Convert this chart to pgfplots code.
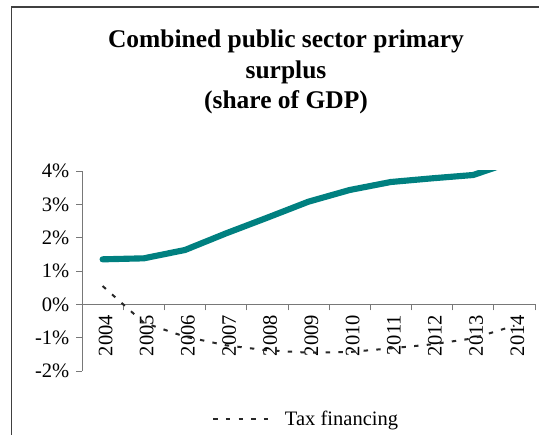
\documentclass[border=0pt]{standalone}
\usepackage{fontspec}
\setmainfont{Liberation Serif}
\usepackage{pgfplots}
\pgfplotsset{compat=1.18}
\definecolor{teal1}{RGB}{0,128,128}
\definecolor{axgray}{RGB}{120,120,120}
\definecolor{dotgray}{RGB}{40,40,40}
\begin{document}
\begin{tikzpicture}[x=0.75pt,y=0.75pt]
\useasboundingbox (0,0) rectangle (539,435);
\draw[line width=1.1pt,black!75] (11.7,-10) -- (11.7,428) -- (560,428);
\node[anchor=base,font=\bfseries\fontsize{19.1}{22.9}\selectfont] at (286,387) {Combined public sector primary};
\node[anchor=base,font=\bfseries\fontsize{19.1}{22.9}\selectfont] at (286,356.5) {surplus};
\node[anchor=base,font=\bfseries\fontsize{19.1}{22.9}\selectfont] at (286,326) {(share of GDP)};
\begin{axis}[
  at={(61.5pt,48pt)}, anchor=south west,
  scale only axis, width=339.75pt, height=150pt,
  xmin=-0.5, xmax=10.5, ymin=-2, ymax=4,
  axis y line=left, axis x line=middle,
  hide obscured x ticks=false, hide obscured y ticks=false,
  axis line style={-, draw=axgray, line width=0.6pt},
  every tick/.style={draw=axgray, line width=0.6pt},
  tick align=outside, major tick length=4.5pt,
  xtick={-0.5,0.5,...,10.5},
  x tick label as interval,
  xticklabels={2004,2005,2006,2007,2008,2009,2010,2011,2012,2013,2014},
  ytick={-2,-1,0,1,2,3,4},
  yticklabels={-2\%,-1\%,0\%,1\%,2\%,3\%,4\%},
  ticklabel style={font=\fontsize{15.4}{18}\selectfont},
  xticklabel style={rotate=90, anchor=east, yshift=-2.2pt},
  yticklabel style={xshift=-1.5pt},
  legend style={at={(axis description cs:0.287,-0.24)}, anchor=west, draw=none, fill=none, inner sep=0pt, font=\fontsize{15.4}{18}\selectfont},
  legend cell align=left,
  legend image code/.code={\draw[#1] (0pt,0pt) -- (47.25pt,0pt); \path (51pt,0pt);},
  clip=true,
]
\addplot[teal1, line width=4.6pt, line cap=round, line join=round, forget plot] coordinates {
(0,1.35) (1,1.38) (2,1.63) (3,2.13) (4,2.60) (5,3.08) (6,3.43) (7,3.67) (8,3.78) (9,3.88) (10,4.30)};
\addplot[dotgray, line width=1.5pt, dash pattern=on 3.3pt off 6.2pt] coordinates {
(0,0.55) (1,-0.55) (2,-0.97) (3,-1.23) (4,-1.38) (5,-1.45) (6,-1.43) (7,-1.32) (8,-1.20) (9,-1.02) (10,-0.64)};
\addlegendentry{Tax financing}
\end{axis}
\end{tikzpicture}
\end{document}
